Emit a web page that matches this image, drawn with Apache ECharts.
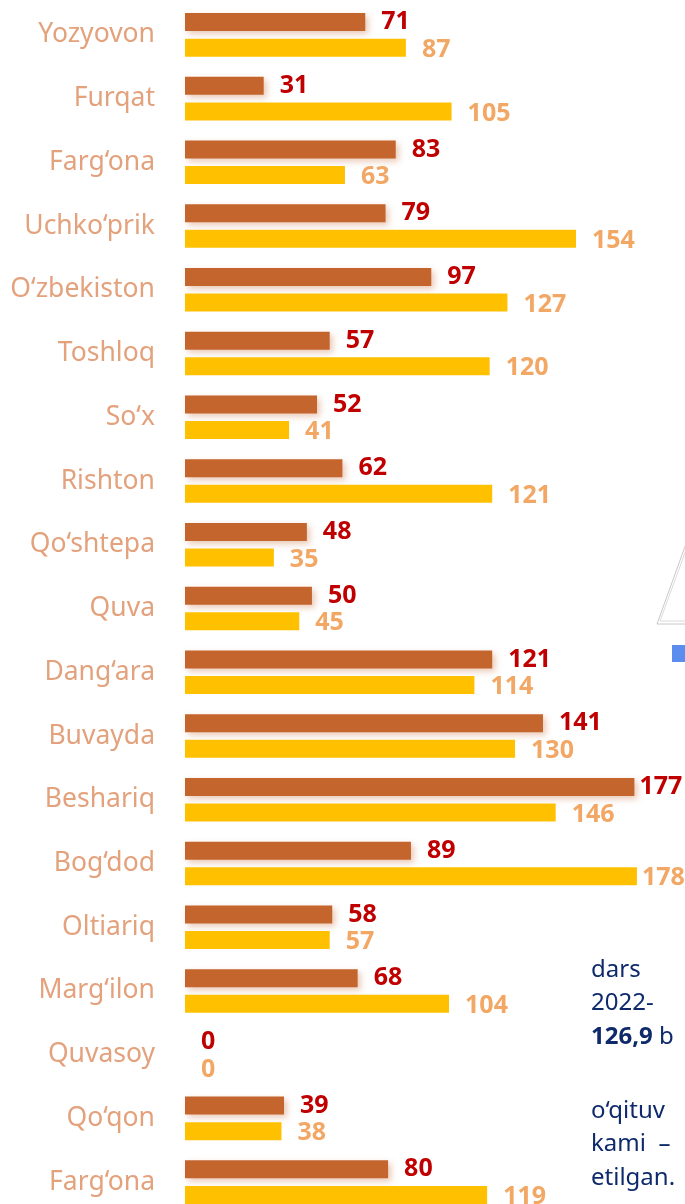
<!DOCTYPE html>
<html>
<head>
    <meta charset="utf-8">
    <script src="https://cdn.jsdelivr.net/npm/echarts@6/dist/echarts.min.js"></script>
    <style>
        html, body { margin: 0; padding: 0; background: #fff; overflow: hidden; }
        /* the chart runs a little past the bottom edge of the page */
        #container { width: 685px; height: 1214px; }
    </style>
</head>
<body>
    <div id="container"></div>
    <script type="text/javascript">

        // districts, top to bottom
        let districts = ['Yozyovon', 'Furqat', 'Farg‘ona', 'Uchko‘prik', 'O‘zbekiston', 'Toshloq', 'So‘x',
            'Rishton', 'Qo‘shtepa', 'Quva', 'Dang‘ara', 'Buvayda', 'Beshariq', 'Bog‘dod', 'Oltiariq',
            'Marg‘ilon', 'Quvasoy', 'Qo‘qon', 'Farg‘ona'];
        // brown bars
        let brownValues = [71, 31, 83, 79, 97, 57, 52, 62, 48, 50, 121, 141, 177, 89, 58, 68, 0, 39, 80];
        // yellow bars
        let yellowValues = [87, 105, 63, 154, 127, 120, 41, 121, 35, 45, 114, 130, 146, 178, 57, 104, 0, 38, 119];

        // text fragments of the page cut off at the right side
        let sideLines = ['dars', '2022-', 'o‘qituv', 'kami  –', 'etilgan.'];
        let sideTops = [958, 991, 1099, 1132, 1166];

        var dom = document.getElementById('container');
        var myChart = echarts.init(dom, null, { renderer: 'canvas' });

        var textFont = '"Noto Sans", "Open Sans", sans-serif';

        // labels of the longest bars sit closer so they stay on the page
        function withLabels(values) {
            return values.map(function (v) {
                if (v > 170) {
                    return { value: v, label: { distance: 5 } };
                }
                return v;
            });
        }

        var graphics = [];
        sideLines.forEach(function (t, i) {
            graphics.push({
                type: 'text', left: 591, top: sideTops[i],
                style: { text: t, fill: '#0E2A6B', font: '24px ' + textFont }
            });
        });
        graphics.push({
            type: 'text', left: 591, top: 1025,
            style: {
                text: '{bold|126,9} b',
                fill: '#0E2A6B', font: '24px ' + textFont,
                rich: { bold: { fontWeight: 'bold', fontSize: 24, fill: '#0E2A6B', fontFamily: textFont } }
            }
        });
        // grey triangle outline and blue square
        graphics.push({
            type: 'polyline',
            shape: { points: [[700, 505], [657, 624], [700, 624]] },
            style: { stroke: '#C8C8C8', lineWidth: 1, fill: null }
        });
        graphics.push({
            type: 'polyline',
            shape: { points: [[700, 512], [660, 621], [700, 621]] },
            style: { stroke: '#DADADA', lineWidth: 1, fill: null }
        });
        graphics.push({
            type: 'rect',
            shape: { x: 672, y: 645, width: 14, height: 17 },
            style: { fill: '#5B8DEF' }
        });

        var option = {
            animation: false,
            grid: { left: 185, right: 43, top: 3, bottom: 0, containLabel: false },
            xAxis: {
                type: 'value', min: 0, max: 180,
                show: false
            },
            yAxis: {
                type: 'category',
                inverse: true,
                data: districts,
                axisLine: { show: false },
                axisTick: { show: false },
                splitLine: { show: false },
                axisLabel: {
                    margin: 30,
                    interval: 0,
                    hideOverlap: false,
                    color: '#E3A17C',
                    fontSize: 26.5,
                    fontFamily: textFont
                }
            },
            series: [
                {
                    type: 'bar',
                    data: withLabels(brownValues),
                    barWidth: 18,
                    barGap: '42%',
                    itemStyle: {
                        color: '#C4652E',
                        shadowColor: 'rgba(196, 101, 46, 0.35)',
                        shadowBlur: 6,
                        shadowOffsetX: 3,
                        shadowOffsetY: 3
                    },
                    label: {
                        show: true,
                        position: 'right',
                        distance: 16,
                        color: '#C00000',
                        fontWeight: 'bold',
                        fontSize: 25,
                        fontFamily: textFont
                    }
                },
                {
                    type: 'bar',
                    data: withLabels(yellowValues),
                    barWidth: 18,
                    itemStyle: { color: '#FFC000' },
                    label: {
                        show: true,
                        position: 'right',
                        distance: 16,
                        offset: [0, 2],
                        color: '#F2A764',
                        fontWeight: 'bold',
                        fontSize: 25,
                        fontFamily: textFont
                    }
                }
            ],
            graphic: graphics
        };

        myChart.setOption(option);
        window.addEventListener('resize', myChart.resize);
    </script>
</body>
</html>
